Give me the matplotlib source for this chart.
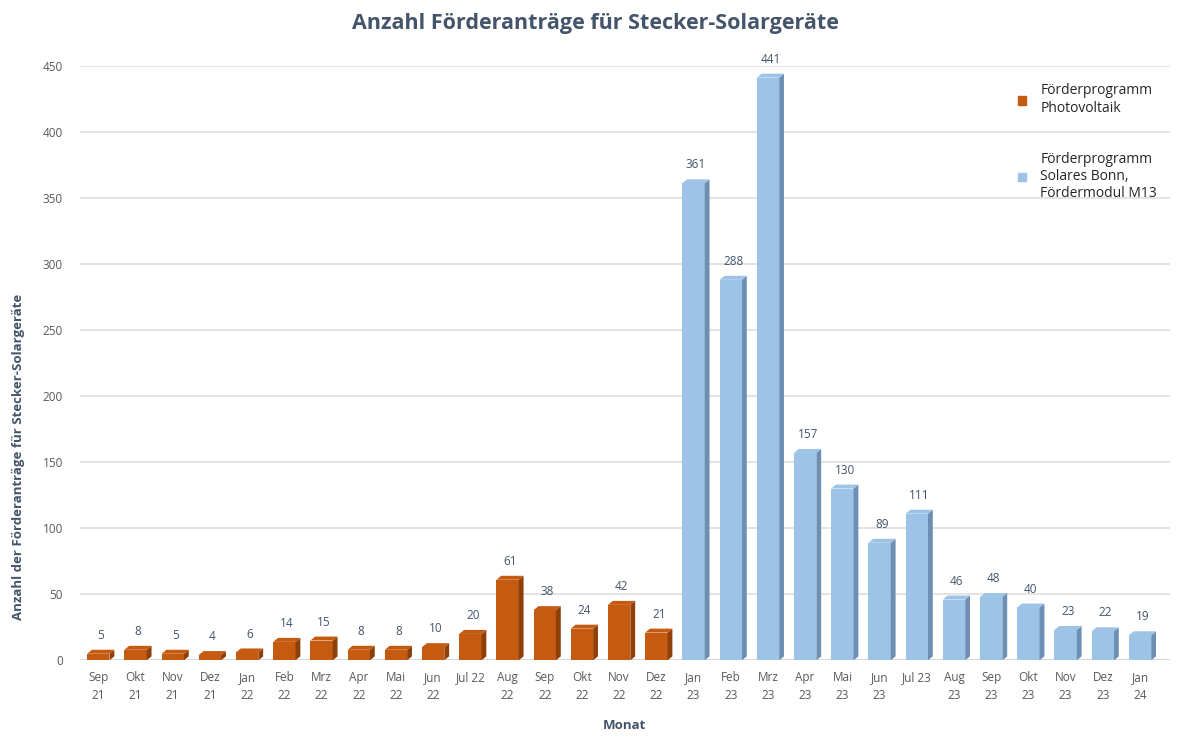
import numpy as np
import matplotlib.pyplot as plt
from matplotlib.patches import Polygon, Patch

plt.rcParams['font.family'] = ['Open Sans', 'DejaVu Sans']

# Monate und Werte
months = ['Sep\n21', 'Okt\n21', 'Nov\n21', 'Dez\n21', 'Jan\n22', 'Feb\n22', 'Mrz\n22',
          'Apr\n22', 'Mai\n22', 'Jun\n22', 'Jul 22', 'Aug\n22', 'Sep\n22', 'Okt\n22',
          'Nov\n22', 'Dez\n22', 'Jan\n23', 'Feb\n23', 'Mrz\n23', 'Apr\n23', 'Mai\n23',
          'Jun\n23', 'Jul 23', 'Aug\n23', 'Sep\n23', 'Okt\n23', 'Nov\n23', 'Dez\n23', 'Jan\n24']
photovoltaik = [5, 8, 5, 4, 6, 14, 15, 8, 8, 10, 20, 61, 38, 24, 42, 21]
solares_bonn = [361, 288, 441, 157, 130, 89, 111, 46, 48, 40, 23, 22, 19]

orange, orange_dark = '#C55A11', '#8E3F0A'
blue, blue_dark = '#9DC3E6', '#6D8FB3'
text_col = '#44546A'
tick_col = '#595959'

fig = plt.figure(figsize=(11.9, 7.47), dpi=100)
ax = fig.add_axes([0.067, 0.116, 0.916, 0.796])

width = 0.6
dx, dy = 0.13, 3.0  # 3D-Tiefe

def draw_bars(xs, vals, face, side):
    ax.bar(xs, vals, width=width, color=face, edgecolor='none', zorder=3)
    for x, v in zip(xs, vals):
        r = x + width / 2
        l = x - width / 2
        ax.add_patch(Polygon([(r, 0), (r + dx, dy), (r + dx, v + dy), (r, v)],
                             closed=True, color=side, lw=0, zorder=3))
        ax.add_patch(Polygon([(l, v), (l + dx, v + dy), (r + dx, v + dy), (r, v)],
                             closed=True, color=face, lw=0, zorder=3))
        ax.text(x + dx / 2, v + dy + 6, str(v), ha='center', va='bottom',
                fontsize=8.5, color=text_col, zorder=4)

x1 = np.arange(len(photovoltaik))
x2 = np.arange(len(photovoltaik), len(months))
draw_bars(x1, photovoltaik, orange, orange_dark)
draw_bars(x2, solares_bonn, blue, blue_dark)

ax.set_xlim(-0.5, 28.8)
ax.set_ylim(0, 450)
ax.set_yticks(np.arange(0, 451, 50))
ax.yaxis.grid(True, color='#DEDEDE', lw=1.2, zorder=0)
ax.set_axisbelow(True)
ax.set_xticks(np.arange(len(months)))
ax.set_xticklabels(months, fontsize=8.5, color=tick_col, linespacing=1.5)
ax.tick_params(axis='y', labelsize=8.5, labelcolor=tick_col, length=0, pad=12)
ax.tick_params(axis='x', length=0, pad=8)
for s in ax.spines.values():
    s.set_visible(False)
ax.axhline(0, color='#D9D9D9', lw=1.5, zorder=2)

ax.set_ylabel('Anzahl der Förderanträge für Stecker-Solargeräte', fontsize=9.5,
              fontweight='bold', color=text_col)
ax.yaxis.set_label_coords(-0.05, 0.343)
ax.set_xlabel('Monat', fontsize=9.5, fontweight='bold', color=text_col, labelpad=12)
fig.suptitle('Anzahl Förderanträge für Stecker-Solargeräte', fontsize=15.5,
             fontweight='bold', color=text_col, y=0.982)

handles = [Patch(color=orange), Patch(color=blue)]
labels = ['Förderprogramm\nPhotovoltaik', 'Förderprogramm\nSolares Bonn,\nFördermodul M13']
fig.legend(handles, labels, loc='upper left', bbox_to_anchor=(0.845, 0.905),
           frameon=False, fontsize=10, handlelength=0.6, handleheight=0.6,
           labelspacing=2.6, handletextpad=1.0, labelcolor='#262626')

fig.savefig('out.png', dpi=100)
